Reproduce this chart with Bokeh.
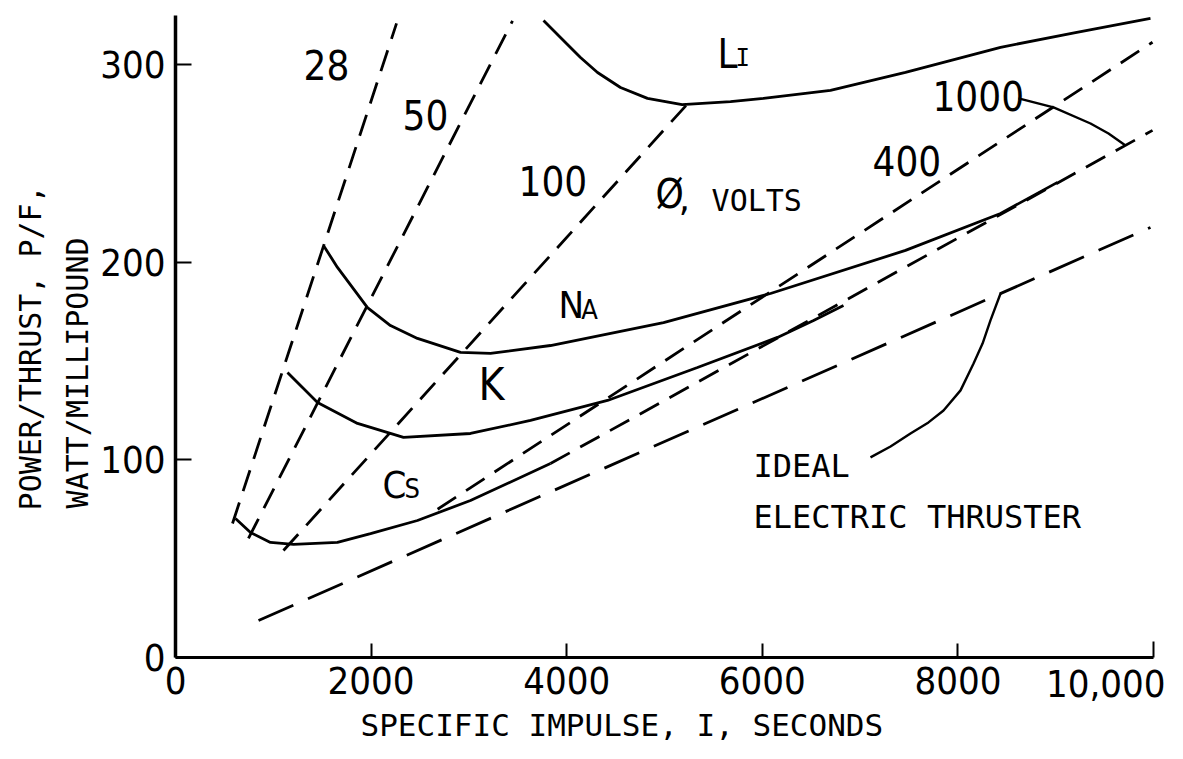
from math import pi
from bokeh.plotting import figure
from bokeh.models import Range1d, Label, FixedTicker
from bokeh.embed import file_html
from bokeh.resources import INLINE

# ---------------- data ----------------
# specific impulse (s) / power-to-thrust ratio (W per millipound)
cs_isp = [613, 767, 971, 1207, 1656, 1994, 2474, 3016, 3834]
cs_pf = [70.3, 63.2, 58.2, 57.2, 58.2, 62.7, 69.3, 79.4, 98.1]

k_isp = [1145, 1452, 1861, 2331, 3016, 3630, 4417, 5337, 6155, 6524, 6830]
k_pf = [144.2, 129.0, 118.4, 111.3, 113.3, 119.9, 130.0, 146.7, 161.9, 170.5, 178.0]

na_isp = [1513, 1656, 1963, 2198, 2474, 2914, 3221, 3834, 4990, 6084, 7464, 8436, 9018]
na_pf = [208.4, 197.3, 177.0, 167.9, 161.4, 154.3, 153.8, 157.8, 169.4, 184.1, 205.9, 224.6, 240.3]

li_isp = [3763, 3967, 4141, 4315, 4550, 4826, 5180, 5675, 6012, 6697, 7464, 8436, 9202, 9969]
li_pf = [322.2, 312.1, 303.5, 295.9, 288.3, 282.8, 279.6, 281.2, 282.8, 286.8, 295.9, 308.6, 316.1, 323.2]

# constant-voltage lines (phi, volts)
volt_labels = ["28", "50", "100", "400", "1000"]
volt_isp_start = [583, 746, 1104, 2680, 3834]
volt_pf_start = [67.8, 60.2, 54.1, 75.0, 98.1]
volt_isp_end = [2260, 3446, 5266, 9990, 9990]
volt_pf_end = [320.7, 322.0, 281.7, 311.2, 266.6]

# ideal electric thruster line
ideal_isp = [849, 9969]
ideal_pf = [18.7, 217.5]

x_ticks = [0, 2000, 4000, 6000, 8000, 10000]
x_tick_labels = ["0", "2000", "4000", "6000", "8000", "10,000"]
y_ticks = [0, 100, 200, 300]

# ---------------- figure ----------------
X_MAX = 10000
Y_MAX = 324.7
PX_PER_Y = 1.977  # screen px per data unit on the y scale (used for text baseline shift)

p = figure(width=1167, height=743, output_backend="svg", toolbar_location=None,
           x_range=Range1d(-1789.4, 10143.1), y_range=Range1d(-43.5, 332.3),
           min_border_left=0, min_border_right=0, min_border_top=0,
           min_border_bottom=0)
p.outline_line_color = None
p.grid.visible = False
p.background_fill_color = "white"
p.border_fill_color = "white"

NARROW = "DejaVu Sans Condensed, Roboto, DejaVu Sans"
MONO = "DejaVu Sans Mono"
TICK = "38px"
LW = 2.8

p.yaxis.fixed_location = 0
p.yaxis.bounds = (0, Y_MAX)
p.yaxis.ticker = FixedTicker(ticks=y_ticks)
p.yaxis.axis_line_width = 3.5
p.yaxis.major_tick_in = 16
p.yaxis.major_tick_out = 0
p.yaxis.major_tick_line_width = 2
p.yaxis.minor_tick_line_color = None
p.yaxis.major_label_standoff = 10
p.yaxis.major_label_text_font = NARROW
p.yaxis.major_label_text_font_size = TICK
p.yaxis.major_label_text_color = "black"

p.xaxis.fixed_location = 0
p.xaxis.bounds = (0, X_MAX)
p.xaxis.ticker = FixedTicker(ticks=x_ticks[:-1], minor_ticks=x_ticks[-1:])
p.xaxis.major_label_overrides = {v: t for v, t in zip(x_ticks[:-1], x_tick_labels[:-1])}
p.xaxis.axis_line_width = 3
p.xaxis.major_tick_in = 14
p.xaxis.major_tick_out = 0
p.xaxis.major_tick_line_width = 2
p.xaxis.minor_tick_in = 16
p.xaxis.minor_tick_out = 0
p.xaxis.minor_tick_line_width = 2
p.xaxis.minor_tick_line_color = "black"
p.xaxis.major_label_standoff = 10
p.xaxis.major_label_text_font = NARROW
p.xaxis.major_label_text_font_size = TICK
p.xaxis.major_label_text_color = "black"

# curves
for xs, ys in [(cs_isp, cs_pf), (k_isp, k_pf), (na_isp, na_pf), (li_isp, li_pf)]:
    p.line(xs, ys, line_color="black", line_width=LW)

for i in range(len(volt_labels)):
    p.line([volt_isp_start[i], volt_isp_end[i]], [volt_pf_start[i], volt_pf_end[i]],
           line_color="black", line_width=LW, line_dash="22 12")

p.line(ideal_isp, ideal_pf, line_color="black", line_width=LW, line_dash="38 16")

# leader lines (annotation positions)
p.line([8620, 8978, 9356, 9540, 9714], [282.8, 278.2, 270.1, 265.0, 259.0],
       line_color="black", line_width=2.4)
p.line([8436, 8333, 8252, 8160, 8027, 7853, 7699, 7515, 7311, 7106],
       [184.1, 170.5, 158.8, 148.7, 135.1, 124.9, 118.9, 113.3, 106.7, 101.2],
       line_color="black", line_width=2.4)


def lab(x, y_base, text, font, size_px, **kw):
    """Place text with its baseline near y_base (data units)."""
    y = y_base - 0.236 * size_px / PX_PER_Y
    p.add_layout(Label(x=x, y=y, text=text, text_font=font,
                       text_font_size=f"{size_px}px", text_color="black",
                       text_baseline="bottom", **kw))


# voltage labels
volt_label_pos = [(1309, 296.8), (2321, 271.6), (3507, 238.2), (7127, 248.3), (7740, 281.2)]
for t, (x, y) in zip(volt_labels, volt_label_pos):
    lab(x, y, t, NARROW, 40)

# propellant labels
lab(5542, 298.4, "L", NARROW, 40)
lab(5726, 298.9, "I", MONO, 24)
lab(3916, 171.5, "N", NARROW, 38)
lab(4150, 171.5, "A", NARROW, 27)
lab(3098, 130.5, "K", NARROW, 44)
lab(2117, 80.9, "C", NARROW, 38)
lab(2342, 80.9, "S", NARROW, 27)

lab(4908, 227.6, "Ø", NARROW, 40)
lab(5112, 226.1, ", VOLTS", MONO, 30)
lab(5910, 91.0, "IDEAL", MONO, 32)
lab(5910, 65.3, "ELECTRIC THRUSTER", MONO, 32)

# last x tick label, kept inside the page
p.add_layout(Label(x=x_ticks[-1], y=-13.0, text=x_tick_labels[-1], text_font=NARROW,
                   text_font_size=TICK, text_color="black", text_align="right",
                   text_baseline="middle", x_offset=12))

# axis titles
lab(1892, -39.5, "SPECIFIC IMPULSE, I, SECONDS", MONO, 31)
p.add_layout(Label(x=-1483, y=74.4, text="POWER/THRUST, P/F,", text_font=MONO,
                   text_font_size="30px", text_color="black", angle=pi / 2,
                   text_align="left", text_baseline="middle"))
p.add_layout(Label(x=-1002, y=75.4, text="WATT/MILLIPOUND", text_font=MONO,
                   text_font_size="30px", text_color="black", angle=pi / 2,
                   text_align="left", text_baseline="middle"))

open("out.html", "w").write(file_html(p, INLINE))
